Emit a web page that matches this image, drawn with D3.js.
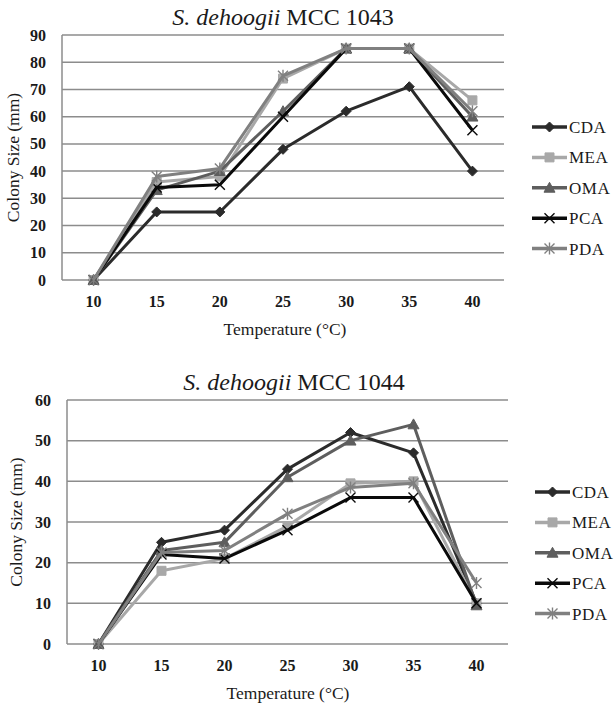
<!DOCTYPE html>
<html>
<head>
<meta charset="utf-8">
<script src="https://cdn.jsdelivr.net/npm/d3@7"></script>
<style>
  body { margin: 0; background: #fff; }
</style>
</head>
<body>
<div id="chart"></div>
<script>
// categories and legend
var temps = ["10", "15", "20", "25", "30", "35", "40"];
var media = ["CDA", "MEA", "OMA", "PCA", "PDA"];

// y tick labels
var yTicks1043 = [0, 10, 20, 30, 40, 50, 60, 70, 80, 90];
var yTicks1044 = [0, 10, 20, 30, 40, 50, 60];

// colony size (mm), MCC 1043
var cda1043 = [0, 25, 25, 48, 62, 71, 40];
var mea1043 = [0, 36, 38, 74, 85, 85, 66];
var oma1043 = [0, 33, 40, 62, 85, 85, 60];
var pca1043 = [0, 34, 35, 60, 85, 85, 55];
var pda1043 = [0, 38, 41, 75, 85, 85, 62];

// colony size (mm), MCC 1044
var cda1044 = [0, 25, 28, 43, 52, 47, 10];
var mea1044 = [0, 18, 21, 29, 39.5, 40, 10];
var oma1044 = [0, 23, 25, 41, 50, 54, 9.5];
var pca1044 = [0, 22, 21, 28, 36, 36, 10];
var pda1044 = [0, 22.5, 23, 32, 38.5, 39.5, 15];

var colors = {CDA: "#2b2b2b", MEA: "#a8a8a8", OMA: "#5e5e5e", PCA: "#0a0a0a", PDA: "#808080"};
var markers = {CDA: "diamond", MEA: "square", OMA: "triangle", PCA: "x", PDA: "star"};
var serif = "'Liberation Serif', 'Times New Roman', 'DejaVu Serif', serif";

var svg = d3.select("#chart").append("svg")
    .attr("width", 615)
    .attr("height", 704)
    .attr("font-family", serif)
    .style("font-family", serif);

// marker path, s = half size
function markerPath(type, s) {
  if (type == "diamond") return "M0," + (-s) + "L" + s + ",0L0," + s + "L" + (-s) + ",0Z";
  if (type == "square") return "M" + (-s) + "," + (-s) + "h" + (2*s) + "v" + (2*s) + "h" + (-2*s) + "Z";
  if (type == "triangle") return "M0," + (-s) + "L" + s + "," + (s*0.8) + "L" + (-s) + "," + (s*0.8) + "Z";
  if (type == "x") return "M" + (-s) + "," + (-s) + "L" + s + "," + s + "M" + (-s) + "," + s + "L" + s + "," + (-s);
  // star = x plus a vertical bar
  return "M" + (-s) + "," + (-s) + "L" + s + "," + s + "M" + (-s) + "," + s + "L" + s + "," + (-s) +
         "M0," + (-s*1.2) + "L0," + (s*1.2);
}

function drawMarker(g, name) {
  var t = markers[name];
  var filled = (t == "diamond" || t == "square" || t == "triangle");
  var s = t == "square" ? 4.5 : (t == "triangle" ? 5.5 : 5);
  g.append("path")
    .attr("d", markerPath(t, s))
    .attr("fill", filled ? colors[name] : "none")
    .attr("stroke", colors[name])
    .attr("stroke-width", filled ? 1 : 1.4);
}

function addText(g) {
  return g.append("text")
    .attr("font-family", serif)
    .attr("fill", "#1a1a1a");
}

function drawChart(cfg) {
  var g = svg.append("g");

  var x = d3.scalePoint()
    .domain(temps)
    .range([cfg.left, cfg.right])
    .padding(0.5);

  var y = d3.scaleLinear()
    .domain([0, d3.max(cfg.yTicks)])
    .range([cfg.bottom, cfg.top]);

  // horizontal grid
  g.selectAll(".hline").data(cfg.yTicks).enter()
    .append("line")
      .attr("x1", cfg.left)
      .attr("x2", cfg.right)
      .attr("y1", function(d) { return y(d); })
      .attr("y2", function(d) { return y(d); })
      .attr("stroke", "#8c8c8c")
      .attr("stroke-width", 1.5);

  // left axis line
  g.append("line")
    .attr("x1", cfg.left).attr("x2", cfg.left)
    .attr("y1", cfg.top).attr("y2", cfg.bottom)
    .attr("stroke", "#8c8c8c")
    .attr("stroke-width", 1.5);

  // y tick labels
  cfg.yTicks.forEach(function(d) {
    addText(g)
      .attr("x", cfg.left - 16)
      .attr("y", y(d) + 5.5)
      .attr("text-anchor", "end")
      .attr("font-size", 16)
      .attr("font-weight", "bold")
      .text(d);
  });

  // x tick labels
  temps.forEach(function(d) {
    addText(g)
      .attr("x", x(d))
      .attr("y", cfg.bottom + 27)
      .attr("text-anchor", "middle")
      .attr("font-size", 16)
      .attr("font-weight", "bold")
      .text(d);
  });

  // title
  var title = addText(g)
    .attr("x", cfg.titleX)
    .attr("y", cfg.top - 10)
    .attr("text-anchor", "middle")
    .attr("font-size", 24);
  title.append("tspan").attr("font-style", "italic").text("S. dehoogii");
  title.append("tspan").text(" " + cfg.title);

  // axis titles
  addText(g)
    .attr("x", cfg.xLabelX)
    .attr("y", cfg.bottom + 55)
    .attr("text-anchor", "middle")
    .attr("font-size", 17.5)
    .text("Temperature (°C)");

  addText(g)
    .attr("transform", "translate(" + (cfg.yLabelX) + "," + ((cfg.top + cfg.bottom) / 2) + ") rotate(-90)")
    .attr("text-anchor", "middle")
    .attr("font-size", 17.5)
    .text("Colony Size (mm)");

  // series lines + markers
  var line = d3.line()
    .x(function(d, i) { return x(temps[i]); })
    .y(function(d) { return y(d); });

  media.forEach(function(name, k) {
    var vals = cfg.values[k];
    g.append("path")
      .datum(vals)
      .attr("d", line)
      .attr("fill", "none")
      .attr("stroke", colors[name])
      .attr("stroke-width", 3)
      .attr("stroke-linejoin", "round");

    vals.forEach(function(v, i) {
      var m = g.append("g")
        .attr("transform", "translate(" + x(temps[i]) + "," + y(v) + ")");
      drawMarker(m, name);
    });
  });

  // legend
  media.forEach(function(name, k) {
    var ly = cfg.legendY + k * 30.4;
    g.append("line")
      .attr("x1", cfg.legendX).attr("x2", cfg.legendX + 35)
      .attr("y1", ly).attr("y2", ly)
      .attr("stroke", colors[name])
      .attr("stroke-width", 3.5);
    var m = g.append("g")
      .attr("transform", "translate(" + (cfg.legendX + 17.5) + "," + ly + ")");
    drawMarker(m, name);
    addText(g)
      .attr("x", cfg.legendX + 37)
      .attr("y", ly + 6)
      .attr("font-size", 17)
      .attr("letter-spacing", "0.5px")
      .text(name);
  });
}

drawChart({
  title: "MCC 1043",
  left: 62, right: 504, top: 35, bottom: 280,
  yTicks: yTicks1043,
  values: [cda1043, mea1043, oma1043, pca1043, pda1043],
  titleX: 283, xLabelX: 285, yLabelX: 19,
  legendX: 532, legendY: 127
});

drawChart({
  title: "MCC 1044",
  left: 67, right: 508, top: 400, bottom: 644,
  yTicks: yTicks1044,
  values: [cda1044, mea1044, oma1044, pca1044, pda1044],
  titleX: 294, xLabelX: 288, yLabelX: 22,
  legendX: 535, legendY: 492
});
</script>
</body>
</html>
